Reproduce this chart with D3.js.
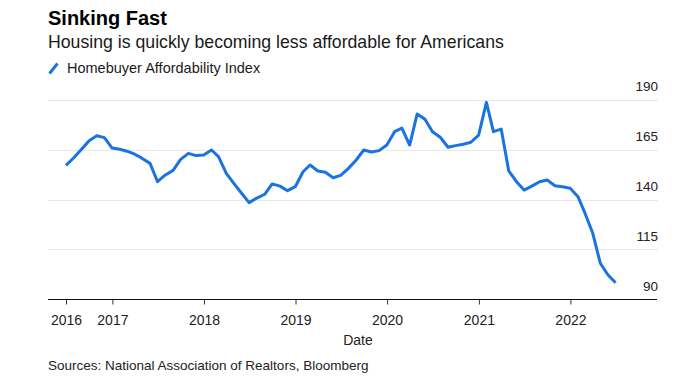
<!DOCTYPE html>
<html>
<head>
<meta charset="utf-8">
<script src="https://cdn.jsdelivr.net/npm/d3@7"></script>
<style>
  html, body { margin: 0; padding: 0; background: #fff; }
  svg { display: block; font-family: "Liberation Sans", Arial, sans-serif; }
</style>
</head>
<body>
<svg id="chart" width="698" height="382"></svg>
<script>
// ---- data ----
const months = [
  "2016-06","2016-07","2016-08","2016-09","2016-10","2016-11","2016-12",
  "2017-01","2017-02","2017-03","2017-04","2017-05","2017-06","2017-07","2017-08","2017-09","2017-10","2017-11","2017-12",
  "2018-01","2018-02","2018-03","2018-04","2018-05","2018-06","2018-07","2018-08","2018-09","2018-10","2018-11","2018-12",
  "2019-01","2019-02","2019-03","2019-04","2019-05","2019-06","2019-07","2019-08","2019-09","2019-10","2019-11","2019-12",
  "2020-01","2020-02","2020-03","2020-04","2020-05","2020-06","2020-07","2020-08","2020-09","2020-10","2020-11","2020-12",
  "2021-01","2021-02","2021-03","2021-04","2021-05","2021-06","2021-07","2021-08","2021-09","2021-10","2021-11","2021-12",
  "2022-01","2022-02","2022-03","2022-04","2022-05","2022-06"
];
const affordability = [
  157.2,161.0,165.3,169.6,172.1,171.1,165.9,
  165.3,164.3,162.8,160.7,158.2,149.0,152.4,154.7,160.2,163.2,162.1,162.4,
  164.9,161.6,153.2,148.2,143.2,138.5,140.8,142.7,147.9,146.8,144.5,146.5,
  154.0,157.4,154.4,153.7,151.0,152.2,155.7,159.9,164.9,163.9,164.6,167.4,
  174.1,175.9,167.4,183.0,180.3,174.1,171.3,166.3,167.1,167.8,168.8,172.4,
  188.8,174.1,175.4,154.4,149.0,144.8,146.8,149.0,149.9,147.0,146.5,145.7,
  141.5,133.2,123.1,108.1,102.2,98.3
];
const xTickDates = ["2016-06","2017-01","2018-01","2019-01","2020-01","2021-01","2022-01"];
const xTickLabels = ["2016","2017","2018","2019","2020","2021","2022"];
const yTicks = [90, 115, 140, 165, 190];

const title = "Sinking Fast";
const subtitle = "Housing is quickly becoming less affordable for Americans";
const seriesName = "Homebuyer Affordability Index";
const xTitle = "Date";
const source = "Sources: National Association of Realtors, Bloomberg";

// ---- helpers ----
const parseMonth = s => {
  const [y, m] = s.split("-").map(Number);
  return new Date(y, m, 0); // month end
};
const parseTick = (s, i) => {
  const [y, m] = s.split("-").map(Number);
  return i === 0 ? new Date(y, m, 0) : new Date(y, m - 1, 1);
};
const data = months.map((m, i) => ({ date: parseMonth(m), value: affordability[i] }));

const svg = d3.select("#chart");
const blue = "#1a73e0";

const x = d3.scaleTime()
  .domain(d3.extent(data, d => d.date))
  .range([66, 615.6]);
const y = d3.scaleLinear()
  .domain([90, 190])
  .range([299.3, 100]);

// titles
svg.append("text").attr("x", 48).attr("y", 25)
  .attr("font-size", 20).attr("font-weight", "bold").attr("fill", "#000")
  .text(title);
svg.append("text").attr("x", 48).attr("y", 48)
  .attr("font-size", 17.7).attr("fill", "#1a1a1a")
  .text(subtitle);

// legend
svg.append("line").attr("x1", 49.5).attr("y1", 73.5).attr("x2", 57.5).attr("y2", 63.5)
  .attr("stroke", blue).attr("stroke-width", 3).attr("stroke-linecap", "butt");
svg.append("text").attr("x", 67).attr("y", 73)
  .attr("font-size", 14.5).attr("fill", "#1a1a1a")
  .text(seriesName);

// gridlines
const gridG = svg.append("g");
gridG.selectAll("line").data(yTicks.filter(v => v !== 90)).join("line")
  .attr("x1", 48).attr("x2", 658)
  .attr("y1", d => Math.round(y(d)) + 0.5).attr("y2", d => Math.round(y(d)) + 0.5)
  .attr("stroke", "#e8e8e8").attr("stroke-width", 1.2);

// y labels (right side, above gridline)
svg.append("g").selectAll("text").data(yTicks).join("text")
  .attr("x", 658).attr("y", d => y(d) - 8.6)
  .attr("text-anchor", "end").attr("font-size", 13.5).attr("fill", "#222")
  .text(d => d);

// x axis
const tickDates = xTickDates.map(parseTick);
const xAxis = d3.axisBottom(x)
  .tickValues(tickDates)
  .tickSize(5)
  .tickSizeOuter(0)
  .tickFormat((d, i) => xTickLabels[i]);
const axisG = svg.append("g").attr("transform", "translate(0,299.5)").call(xAxis);
axisG.select(".domain").remove();
axisG.append("line").attr("x1", 48).attr("x2", 657).attr("y1", 0).attr("y2", 0)
  .attr("stroke", "#111").attr("stroke-width", 1);
axisG.selectAll(".tick line").attr("stroke", "#333");
axisG.selectAll(".tick text")
  .attr("font-family", "'Liberation Sans', Arial, sans-serif")
  .attr("font-size", 14).attr("fill", "#222").attr("dy", 0).attr("y", 25.5);

svg.append("text").attr("x", 358).attr("y", 345)
  .attr("text-anchor", "middle").attr("font-size", 14).attr("fill", "#222")
  .text(xTitle);

svg.append("text").attr("x", 48).attr("y", 370)
  .attr("font-size", 13.5).attr("fill", "#222")
  .text(source);

// line
const line = d3.line().x(d => x(d.date)).y(d => y(d.value));
svg.append("path").datum(data)
  .attr("fill", "none").attr("stroke", blue).attr("stroke-width", 3)
  .attr("stroke-linejoin", "round").attr("stroke-linecap", "butt")
  .attr("d", line);
</script>
</body>
</html>
